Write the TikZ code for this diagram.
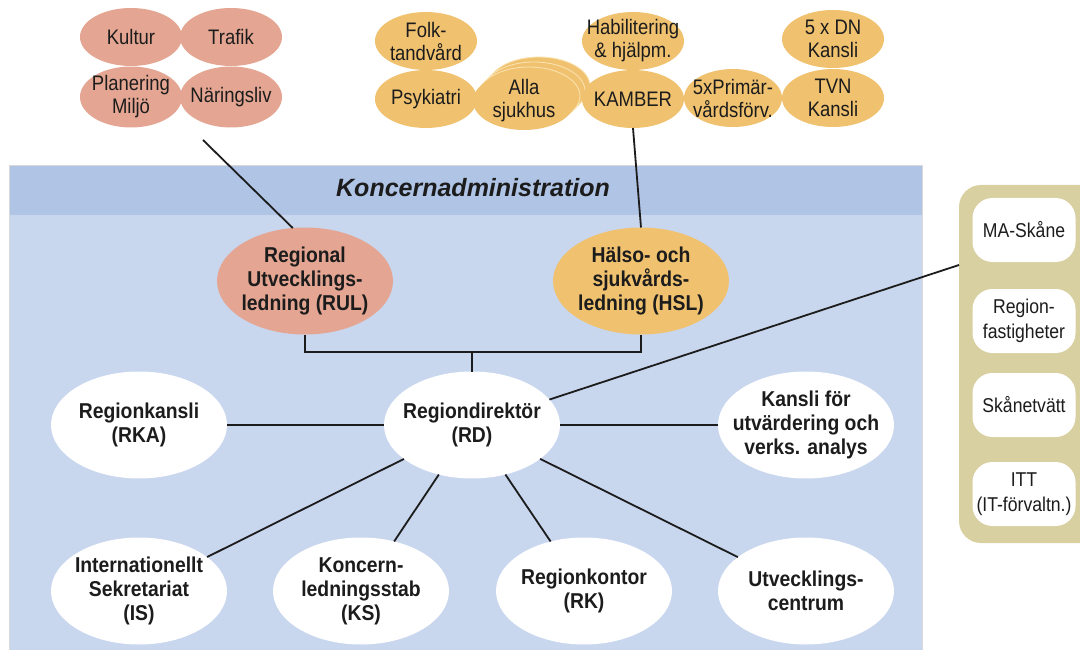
\documentclass[tikz,border=0pt]{standalone}
\usepackage{fontspec}
\setmainfont{Liberation Sans}
\newfontfamily\cf[FakeStretch=0.88]{Liberation Sans}
\newfontfamily\cfb[FakeStretch=0.9]{Liberation Sans}
\usetikzlibrary{shapes.geometric}
\definecolor{headblue}{RGB}{176,196,230}
\definecolor{bodyblue}{RGB}{200,214,238}
\definecolor{salmon}{RGB}{228,166,146}
\definecolor{gold}{RGB}{240,194,112}
\definecolor{goldline}{RGB}{250,228,178}
\definecolor{khaki}{RGB}{216,208,160}
\definecolor{ink}{RGB}{28,28,28}
\begin{document}
\begin{tikzpicture}[x=1pt,y=-1pt,
  sm/.style={ellipse, inner sep=0pt, outer sep=0pt, minimum width=102pt, minimum height=58pt},
  smt/.style={align=center, text=ink, inner sep=0pt, font=\cf\fontsize{21}{23}\selectfont},
  big/.style={ellipse, inner sep=0pt, outer sep=0pt, minimum width=176pt, minimum height=107pt, fill=white},
  bigt/.style={align=center, text=ink, inner sep=0pt, font=\cfb\bfseries\fontsize{21.5}{24}\selectfont},
  rbox/.style={rectangle, rounded corners=20pt, fill=white, inner sep=0pt, minimum width=103pt, minimum height=64pt, align=center, text=ink, font=\cf\fontsize{20}{25}\selectfont},
  conn/.style={draw=ink, line width=1.8pt}
]
\useasboundingbox (0,0) rectangle (1080,650);
\clip (0,0) rectangle (1080,650);
\fill[white] (0,0) rectangle (1080,650);

% main panel
\fill[bodyblue] (9,165) rectangle (922,650);
\fill[headblue] (9,165) rectangle (922,215);
\draw[gray!30, line width=0.6pt] (9,650) -- (9,165) -- (922,165) -- (922,650);
\node[text=ink, font=\bfseries\itshape\fontsize{25}{28}\selectfont, inner sep=0pt] (title) at (473,188) {Koncernadministration};

% right panel
\fill[khaki, rounded corners=22pt] (959,185) rectangle (1110,543);
\node[rbox] (ma) at (1024,230) {MA-Skåne};
\node[rbox] (fast) at (1024,321) {Region-\\fastigheter};
\node[rbox] (tvatt) at (1024,405) {Skånetvätt};
\node[rbox] (itt) at (1024,494) {ITT\\(IT-förvaltn.)};

% salmon cluster
\node[sm, fill=salmon, label={[smt]center:{Kultur}}] (kultur) at (131,37) {};
\node[sm, fill=salmon, label={[smt]center:{Trafik}}] (trafik) at (231,37) {};
\node[sm, fill=salmon, minimum height=61pt, label={[smt]center:{Planering\\Miljö}}] (plan) at (131,97) {};
\node[sm, fill=salmon, minimum height=61pt, label={[smt]center:{Näringsliv}}] (nar) at (231,97) {};

% gold cluster
\node[sm, fill=gold, label={[smt]center:{Folk-\\tandvård}}] (folk) at (426,41) {};
\node[sm, fill=gold, label={[smt]center:{Psykiatri}}] (psyk) at (426,99) {};
\node[sm, fill=gold, draw=goldline, line width=0.8pt] (alla3) at (539,86) {};
\node[sm, fill=gold, draw=goldline, line width=0.8pt] (alla2) at (534,91) {};
\node[sm, fill=gold, draw=goldline, line width=0.8pt] (alla1) at (529,96) {};
\node[sm, fill=gold, label={[smt]center:{Alla\\sjukhus}}] (alla) at (524,101) {};
\node[sm, fill=gold, label={[smt]center:{Habilitering\\\& hjälpm.}}] (habil) at (633,41) {};
\node[sm, fill=gold, label={[smt]center:{KAMBER}}] (kamber) at (633,99) {};
\node[sm, fill=gold, minimum width=98pt, label={[smt]center:{5xPrimär-\\vårdsförv.}}] (prim) at (733,98) {};
\node[sm, fill=gold, label={[smt]center:{5 x DN\\Kansli}}] (dn) at (833,39) {};
\node[sm, fill=gold, label={[smt]center:{TVN\\Kansli}}] (tvn) at (833,98) {};

% main ellipses
\node[big, fill=salmon, label={[bigt]center:{Regional\\Utvecklings-\\ledning (RUL)}}] (rul) at (305,281) {};
\node[big, fill=gold, label={[bigt]center:{Hälso- och\\sjukvårds-\\ledning (HSL)}}] (hsl) at (641,281) {};
\node[big, label={[bigt]center:{Regiondirektör\\(RD)}}] (rd) at (472,425) {};
\node[big, label={[bigt]center:{Regionkansli\\(RKA)}}] (rka) at (139,425) {};
\node[big, label={[bigt]center:{Kansli för\\utvärdering och\\verks. analys}}] (kansli) at (806,425) {};
\node[big, label={[bigt]center:{Internationellt\\Sekretariat\\(IS)}}] (is) at (139,591) {};
\node[big, label={[bigt]center:{Koncern-\\ledningsstab\\(KS)}}] (ks) at (361,591) {};
\node[big, label={[bigt]center:{Regionkontor\\(RK)}}] (rk) at (584,591) {};
\node[big, label={[bigt]center:{Utvecklings-\\centrum}}] (uc) at (806,591) {};

% connectors
\coordinate (c1) at (203,140);
\coordinate (rp) at (959,265);
\coordinate (bj) at (472,352);
\draw[conn] (c1) -- (rul.103);
\draw[conn] (kamber.south) -- (hsl.north);
\draw[conn] (rul.south) -- (rul.south |- bj) -| (hsl.south);
\draw[conn] (bj) -- (rd.north);
\draw[conn] (rka) -- (rd);
\draw[conn] (rd) -- (kansli);
\draw[conn] (rd) -- (is);
\draw[conn] (rd) -- (ks);
\draw[conn] (rd) -- (rk);
\draw[conn] (rd) -- (uc);
\draw[conn] (rd) -- (rp);
\end{tikzpicture}
\end{document}
